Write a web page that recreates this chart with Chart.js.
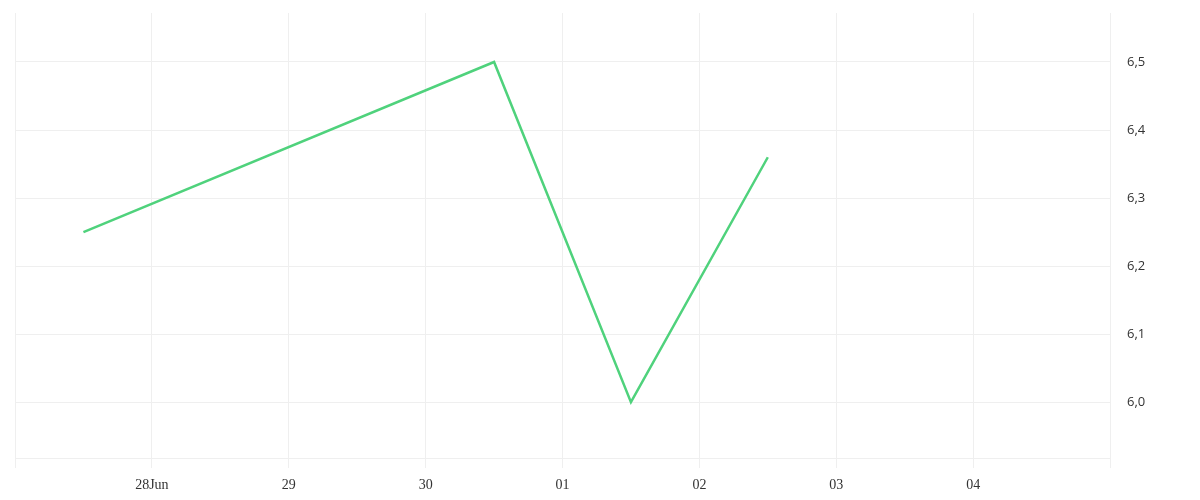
<!DOCTYPE html>
<html>
<head>
<meta charset="utf-8">
<script src="https://cdn.jsdelivr.net/npm/chart.js@4"></script>
<style>
  html, body { margin: 0; padding: 0; background: #fff; }
  #wrap { width: 1200px; height: 500px; }
</style>
</head>
<body>
<div id="wrap"><canvas id="c"></canvas></div>
<script>
// data
const START = "2024-06-27T00:00:00";
const dates = ["2024-06-27T12:00:00", "2024-06-30T12:00:00", "2024-07-01T12:00:00", "2024-07-02T12:00:00"];
const values = [6.25, 6.5, 6.0, 6.36];
const dayLabels = ["", "28Jun", "29", "30", "01", "02", "03", "04", ""];

const DAY = 86400000;
const t0 = new Date(START).getTime();
const points = dates.map((d, i) => ({ x: (new Date(d).getTime() - t0) / DAY, y: values[i] }));

const grid = "#efefef";

new Chart(document.getElementById("c"), {
  type: "line",
  data: {
    datasets: [{
      data: points,
      borderColor: "#4fd27c",
      borderWidth: 2.5,
      pointRadius: 0,
      tension: 0,
      fill: false,
    }],
  },
  options: {
    responsive: true, maintainAspectRatio: false, animation: false,
    layout: { padding: { top: 13, left: 15, right: 0, bottom: 0 } },
    plugins: { legend: { display: false }, tooltip: { enabled: false } },
    scales: {
      x: {
        type: "linear", min: 0, max: dayLabels.length - 1,
        grid: { color: grid, tickLength: 10, tickColor: grid },
        border: { color: grid },
        ticks: {
          stepSize: 1, maxRotation: 0, autoSkip: false, padding: 9,
          color: "#333", font: { family: "Liberation Serif", size: 14 },
          callback: (v) => dayLabels[v] !== undefined ? dayLabels[v] : "",
        },
        afterFit: (s) => { s.height = 42; s.paddingLeft = 0; s.paddingRight = 0; },
      },
      y: {
        position: "right", min: 5.918, max: 6.572,
        grid: { color: grid, drawTicks: false },
        border: { color: grid },
        ticks: {
          stepSize: 0.1, includeBounds: false, padding: 17,
          color: "#333", font: { family: "Open Sans", size: 13 },
          callback: (v) => v.toFixed(1).replace(".", ","),
        },
        afterFit: (s) => { s.width = 90; s.paddingTop = 0; s.paddingBottom = 0; },
      },
    },
  },
});
</script>
</body>
</html>
